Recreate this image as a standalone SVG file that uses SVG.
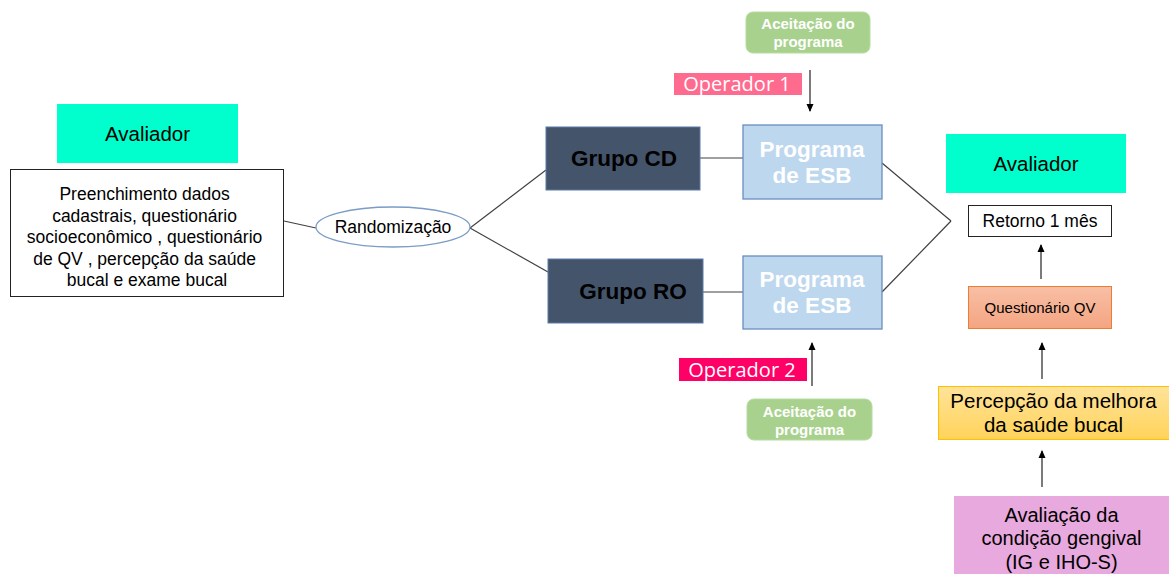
<svg xmlns="http://www.w3.org/2000/svg" width="1169" height="574" viewBox="0 0 1169 574">
<style>
text{font-family:"Liberation Sans",Arial,sans-serif;text-anchor:middle;fill:#000}
.ln{stroke:#404040;stroke-width:1.2;fill:none}
.ar{stroke:#222;stroke-width:1.2;fill:none;marker-end:url(#ah)}
.grp{fill:#44546A;stroke:#5B7BA8;stroke-width:1}
.esb{fill:#BDD7EE;stroke:#6A8EBE;stroke-width:1.3}
.esbt{fill:#fff;font-weight:bold;font-size:22.5px}
.acc{fill:#A9D18E;stroke:#B8DCA0;stroke-width:1}
.acct{fill:#fff;font-weight:bold;font-size:15px}
.av{fill:#00FFCC}
.opt{fill:#fff;font-family:"Open Sans",sans-serif;font-size:20px}
</style>
<defs>
<marker id="ah" markerWidth="8" markerHeight="8" refX="7" refY="4" orient="auto" markerUnits="userSpaceOnUse">
<path d="M0,0.5 L8,4 L0,7.5 Z" fill="#000"/>
</marker>
<linearGradient id="gq" x1="0" y1="0" x2="0" y2="1"><stop offset="0" stop-color="#F8BFA5"/><stop offset="1" stop-color="#F4A582"/></linearGradient>
<linearGradient id="gp" x1="0" y1="0" x2="0" y2="1"><stop offset="0" stop-color="#FFE39A"/><stop offset="1" stop-color="#FFD35A"/></linearGradient>
</defs>

<g id="connectors">
<line class="ln" x1="284" y1="221" x2="316" y2="228"/>
<line class="ln" x1="470" y1="228" x2="546" y2="170"/>
<line class="ln" x1="470" y1="228" x2="548" y2="272"/>
<line class="ln" x1="700" y1="158" x2="743" y2="158"/>
<line class="ln" x1="703" y1="292" x2="743" y2="292"/>
<line class="ln" x1="882" y1="163" x2="951" y2="221"/>
<line class="ln" x1="951" y1="221" x2="882" y2="292"/>
<line class="ar" x1="810" y1="70" x2="810" y2="111"/>
<line class="ar" x1="812" y1="386" x2="812" y2="343"/>
<line class="ar" x1="1041" y1="279" x2="1041" y2="245"/>
<line class="ar" x1="1042" y1="379" x2="1042" y2="343"/>
<line class="ar" x1="1042" y1="487" x2="1042" y2="451"/>
</g>

<g id="avaliador1">
<rect class="av" x="57" y="104" width="181" height="59"/>
<text x="147.5" y="141" font-size="20.5">Avaliador</text>
</g>

<g id="preenchimento">
<rect x="10.5" y="169.5" width="273" height="127" fill="#fff" stroke="#222" stroke-width="1"/>
<text font-size="17.5">
<tspan x="147" y="200">Preenchimento dados</tspan>
<tspan x="147" y="221.5">cadastrais, questionário</tspan>
<tspan x="147" y="243">socioeconômico , questionário</tspan>
<tspan x="147" y="264.5">de QV , percepção da saúde</tspan>
<tspan x="147" y="286">bucal e exame bucal</tspan>
</text>
</g>

<g id="randomizacao">
<ellipse cx="393" cy="227" rx="77" ry="20" fill="#fff" stroke="#7A9CC6" stroke-width="1.3"/>
<text x="393" y="233" font-size="17.5">Randomização</text>
</g>

<g id="grupoCD">
<rect class="grp" x="546" y="127" width="154" height="63"/>
<text x="624" y="166" font-size="22.5" font-weight="bold">Grupo CD</text>
</g>

<g id="grupoRO">
<rect class="grp" x="548" y="259" width="155" height="64"/>
<text x="633" y="299" font-size="22.5" font-weight="bold">Grupo RO</text>
</g>

<g id="esb1">
<rect class="esb" x="743" y="125" width="139" height="74"/>
<text class="esbt"><tspan x="812" y="157">Programa</tspan><tspan x="812" y="183">de ESB</tspan></text>
</g>

<g id="esb2">
<rect class="esb" x="743" y="256" width="139" height="73"/>
<text class="esbt"><tspan x="812" y="287">Programa</tspan><tspan x="812" y="313">de ESB</tspan></text>
</g>

<g id="aceitacao1">
<rect class="acc" x="746" y="12" width="124" height="41" rx="7"/>
<text class="acct"><tspan x="808" y="29">Aceitação do</tspan><tspan x="808" y="47">programa</tspan></text>
</g>

<g id="aceitacao2">
<rect class="acc" x="747" y="399" width="125" height="41" rx="7"/>
<text class="acct"><tspan x="809.5" y="417">Aceitação do</tspan><tspan x="809.5" y="435">programa</tspan></text>
</g>

<g id="operador1">
<rect x="674" y="73" width="128" height="22" fill="#FF6B8E"/>
<text class="opt" x="737" y="91">Operador 1</text>
</g>

<g id="operador2">
<rect x="679" y="358" width="128" height="23" fill="#FF0066"/>
<text class="opt" x="742" y="377">Operador 2</text>
</g>

<g id="avaliador2">
<rect class="av" x="946" y="134" width="180" height="59"/>
<text x="1036" y="171" font-size="20.5">Avaliador</text>
</g>

<g id="retorno">
<rect x="968.5" y="205.5" width="143" height="31" fill="#fff" stroke="#222" stroke-width="1"/>
<text x="1040" y="227" font-size="17.5">Retorno 1 mês</text>
</g>

<g id="questionario">
<rect x="968.5" y="286.5" width="143" height="42" fill="url(#gq)" stroke="#ED7D31" stroke-width="1"/>
<text x="1040" y="313" font-size="15" fill="#222">Questionário QV</text>
</g>

<g id="percepcao">
<rect x="938.5" y="386.5" width="232" height="53" fill="url(#gp)" stroke="#FFC000" stroke-width="1"/>
<text font-size="20.5"><tspan x="1053.5" y="408">Percepção da melhora</tspan><tspan x="1053.5" y="432">da saúde bucal</tspan></text>
</g>

<g id="avaliacao">
<rect x="954" y="496" width="216" height="80" fill="#E8A9DE"/>
<text font-size="20"><tspan x="1061.5" y="522">Avaliação da</tspan><tspan x="1061.5" y="545">condição gengival</tspan><tspan x="1061.5" y="569">(IG e IHO-S)</tspan></text>
</g>
</svg>
